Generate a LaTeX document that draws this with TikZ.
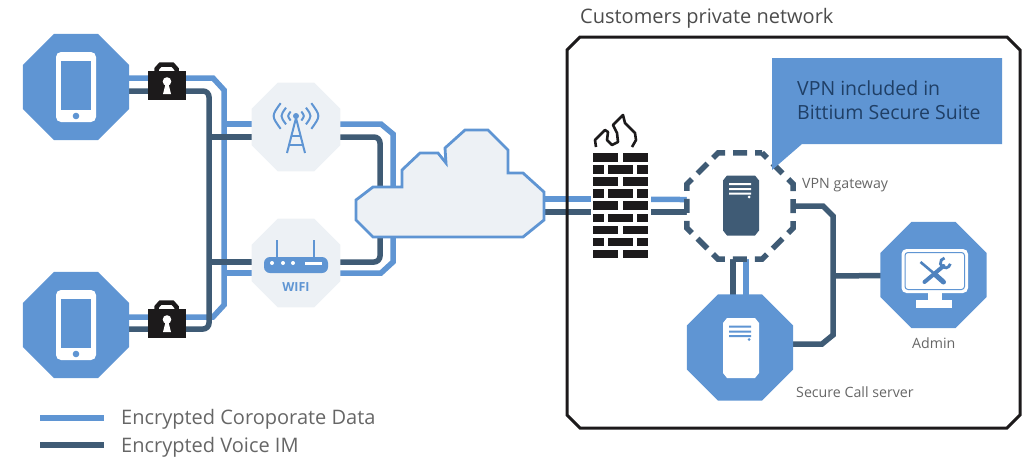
\documentclass[tikz,border=0pt]{standalone}
\usepackage{fontspec}
\setmainfont{Open Sans}
\usetikzlibrary{shapes.geometric,backgrounds}
\definecolor{bblue}{HTML}{5F95D3}
\definecolor{bdark}{HTML}{3F5B75}
\definecolor{blight}{HTML}{EDF1F5}
\definecolor{bblack}{HTML}{1C1A1B}
\definecolor{calltext}{HTML}{1F3F66}
\definecolor{toolblue}{HTML}{4E82BE}
\tikzset{
  octa/.style={regular polygon,regular polygon sides=8,inner sep=0pt,outer sep=0pt,minimum size=115pt},
  octablue/.style={octa,fill=bblue},
  octalight/.style={octa,fill=blight,minimum size=96pt},
  linkblue/.style={draw=bblue,line width=5.5pt},
  linkdark/.style={draw=bdark,line width=5.5pt},
  cap14/.style={font=\fontsize{20}{23}\selectfont,text=black!70,anchor=base west,inner sep=0pt},
  small/.style={font=\fontsize{14.2}{16}\selectfont,text=black!60,anchor=base west,inner sep=0pt},
  calltxt/.style={font=\fontsize{19.5}{24}\selectfont,text=calltext,anchor=base west,inner sep=0pt},
  brick/.style={fill=bblack,draw=none},
  lockbody/.style={fill=bblack,minimum width=38pt,minimum height=29pt,inner sep=0pt,outer sep=0pt},
  lockpic/.pic={
    \draw[bblack,line width=4.5pt] (-10.5,-9) -- (-10.5,-16) -- (-6.5,-20.5) -- (5.5,-20.5) -- (9.5,-16) -- (9.5,-9);
    \fill[white] (0,-3.5) circle (4.3pt);
    \fill[white] (-1.5,-1) -- (1.5,-1) -- (4,9) -- (-4,9) -- cycle;
  },
  phonepic/.pic={
    \fill[white,rounded corners=5pt] (-20,-35) rectangle (20,35);
    \fill[bblue] (-15,-26) rectangle (15,23);
    \fill[bblue] (0,29) circle (3.3pt);
  },
  serverpic/.pic={
    \fill[#1] (-18,-25) -- (-14,-30) -- (14,-30) -- (18,-25) -- (18,25) -- (14,30) -- (-14,30) -- (-18,25) -- cycle;
  },
}
\begin{document}
\begin{tikzpicture}[x=1pt,y=-1pt]
\useasboundingbox (0,0) rectangle (1023,456);

% ---- nodes
\node[octablue] (phoneA) at (76,87) {};
\node[octablue] (phoneB) at (76,325) {};
\node[lockbody] (lockA) at (167,85) {};
\node[lockbody] (lockB) at (167,323) {};
\node[octalight] (tower) at (296,127) {};
\node[octalight] (wifi) at (296,263) {};
\node[minimum width=188pt,minimum height=107pt,inner sep=0pt,outer sep=0pt] (cloud) at (450,183.5) {};
\node[fill=white,minimum width=60pt,minimum height=150pt,inner sep=0pt,outer sep=0pt] (wall) at (621,187) {};
\node[octa,draw=bdark,fill=white,line width=5.5pt,dash pattern=on 14pt off 8pt,dash phase=7pt] (vpn) at (740,206) {};
\node[octablue] (call) at (740,347.5) {};
\node[octablue] (admin) at (933.5,275) {};

% ---- phones, locks
\pic at (phoneA.center) {phonepic};
\pic at (phoneB.center) {phonepic};
\pic at (lockA.center) {lockpic};
\pic at (lockB.center) {lockpic};

% ---- tower icon
\begin{scope}[shift={(tower.center)}]
  \begin{scope}[bblue,line width=2pt]
    \foreach \r in {7,13,20}{
      \draw ({.766*\r},{-11-.643*\r}) .. controls ({1.234*\r},-11) .. ({.766*\r},{-11+.643*\r});
      \draw ({-.766*\r},{-11-.643*\r}) .. controls ({-1.234*\r},-11) .. ({-.766*\r},{-11+.643*\r});
    }
    \fill (0,-11) circle (3pt);
    \draw[line join=round] (-9,26) -- (0,-9) -- (9,26);
    \draw (-4.5,9) -- (4.5,9);
    \draw (-7,18) -- (7,18);
  \end{scope}
\end{scope}

% ---- wifi icon
\begin{scope}[shift={(wifi.center)}]
  \draw[bblue,line width=2pt] (-19,-23) -- (-19,2);
  \draw[bblue,line width=2pt] (18,-23) -- (18,2);
  \fill[bblue,rounded corners=6pt] (-32,-6) rectangle (32,10);
  \fill[white] (-24,0) circle (2pt) (-13,0) circle (2pt) (-3,0) circle (2pt);
  \fill[white] (9,-1.5) rectangle (26,1.5);
  \node[font=\fontsize{12.5}{14}\selectfont\bfseries,text=bblue,inner sep=0pt] (wifitext) at (0,24) {WIFI};
\end{scope}

% ---- cloud
\fill[blight,draw=bblue,line width=2.8pt,line join=miter]
  (356,203) -- (356,220) -- (373,237) -- (523,237) -- (544,220) -- (544,192) -- (523,173) -- (508,173)
  -- (508,150) -- (488,130) -- (465,130) -- (445,148) -- (446,163) -- (438,153) -- (420,153)
  -- (402,170) -- (402,187) -- (373,187) -- (356,200) -- cycle;

% ---- firewall
\foreach \i in {0,2,4,6,8}{
  \fill[brick] (593,{153+12.1*\i}) rectangle (618,{161.5+12.1*\i});
  \fill[brick] (623,{153+12.1*\i}) rectangle (648,{161.5+12.1*\i});
}
\foreach \i in {1,3,5,7}{
  \fill[brick] (593,{153+12.1*\i}) rectangle (604,{161.5+12.1*\i});
  \fill[brick] (608,{153+12.1*\i}) rectangle (633,{161.5+12.1*\i});
  \fill[brick] (637,{153+12.1*\i}) rectangle (648,{161.5+12.1*\i});
}
\draw[bblack,line width=2.6pt,line join=round]
  (596,147) -- (595,140) -- (605,130) -- (608,132) -- (607,140) -- (612,145) -- (618,142) -- (617,133)
  -- (613,125) -- (623,115) -- (625,123) -- (635,133) -- (636,140) -- (632,147);

% ---- server icons
\begin{scope}[shift={(741,205.5)}]
  \pic {serverpic=bdark};
  \fill[white] (-12,-22.5) rectangle (10,-20.5) (-12,-17.5) rectangle (10,-15.5) (-12,-13) rectangle (10,-11);
  \fill[white] (8,-8.5) circle (1.5pt);
\end{scope}
\begin{scope}[shift={(741,348)}]
  \pic {serverpic=white};
  \fill[bblue] (-12,-22.5) rectangle (10,-20.5) (-12,-17.5) rectangle (10,-15.5) (-12,-13) rectangle (10,-11);
  \fill[bblue] (8,-8.5) circle (1.5pt);
\end{scope}

% ---- admin icon
\begin{scope}[shift={(admin.center)}]
  \fill[white,rounded corners=5pt] (-32,-26) rectangle (34.5,18);
  \draw[bblue,line width=1pt,rounded corners=3pt] (-28.5,-22.5) rectangle (31,14.5);
  \fill[white] (-5.5,18) rectangle (8.5,26);
  \fill[white] (-17.5,25) rectangle (18.5,33);
  \draw[toolblue,line width=2.6pt] (-13,-13) -- (0,-2);
  \draw[toolblue,line width=5pt,line cap=round] (1,-1) -- (10,7);
  \draw[toolblue,line width=4pt,line cap=round] (10,-9) -- (-9,7);
  \draw[toolblue,line width=2.8pt] (11,-17) arc[start angle=100,end angle=350,radius=5pt];
\end{scope}

% ---- callout
\fill[bblue] (772,58) -- (1002,58) -- (1002,144) -- (802,144) -- (772,170) -- cycle;
\node[calltxt] (vpntxtA) at (797,95) {VPN included in};
\node[calltxt] (vpntxtB) at (797,119) {Bittium Secure Suite};

% ---- private network frame
\draw[bblack,line width=3pt] (580,37) -- (1007,37) -- (1020,50) -- (1020,415) -- (1007,428) -- (580,428) -- (567,415) -- (567,50) -- cycle;

% ---- labels
\node[cap14] (netlabel) at (580,23) {Customers private network};
\node[small] (vpnlabel) at (802,188) {VPN gateway};
\node[small] (adminlabel) at (912,348) {Admin};
\node[small] (calllabel) at (796,397) {Secure Call server};

% ---- legend
\coordinate (legA1) at (40,418);
\coordinate (legA2) at (104,418);
\coordinate (legB1) at (40,445);
\coordinate (legB2) at (104,445);
\draw[linkblue,line width=6pt] (legA1) -- (legA2);
\draw[linkdark,line width=6pt] (legB1) -- (legB2);
\node[cap14,text=black!60] (legtextA) at (121,424) {Encrypted Coroporate Data};
\node[cap14,text=black!60] (legtextB) at (121,452) {Encrypted Voice IM};

% ---- connectors
\begin{scope}[on background layer]
  \coordinate (busA) at (224,0);
  \coordinate (busB) at (209,0);
  \draw[linkblue] ([shift={(0,-9)}]phoneA.center) -- (213,78) -- (224,90) -- (224,305) -- (213,317) -- ([shift={(0,-8)}]phoneB.center);
  \draw[linkdark,rounded corners=6pt] ([shift={(0,4)}]phoneA.center) -- (209,91) -- (209,329) -- ([shift={(0,4)}]phoneB.center);
  \draw[linkblue] (busA |- tower.center) ++(0,-3) -- ([shift={(0,-3)}]tower.center);
  \draw[linkdark] (busB |- tower.center) ++(0,10) -- ([shift={(0,10)}]tower.center);
  \draw[linkdark] (busB |- wifi.center) ++(0,-1) -- ([shift={(0,-1)}]wifi.center);
  \draw[linkblue] (busA |- wifi.center) ++(0,10) -- ([shift={(0,10)}]wifi.center);
  \draw[linkblue] ([shift={(0,-3)}]tower.center) -- (381,124) -- (393,134) -- ([shift={(-57,7)}]cloud.center);
  \draw[linkdark,rounded corners=6pt] ([shift={(0,10)}]tower.center) -- (380,137) -- ([shift={(-70,7)}]cloud.center);
  \draw[linkblue] ([shift={(0,10)}]wifi.center) -- (381,273) -- (393,262) -- ([shift={(-57,40)}]cloud.center);
  \draw[linkdark,rounded corners=6pt] ([shift={(0,-1)}]wifi.center) -- (380,262) -- ([shift={(-70,40)}]cloud.center);
  \draw[linkblue] ([shift={(0,15.5)}]cloud.center) -- ([shift={(0,12)}]wall.center);
  \draw[linkdark] ([shift={(0,28.5)}]cloud.center) -- ([shift={(0,25)}]wall.center);
  \draw[linkblue] ([shift={(0,12)}]wall.center) -- ([shift={(0,-6)}]vpn.center);
  \draw[linkdark] ([shift={(0,25)}]wall.center) -- ([shift={(0,6)}]vpn.center);
  \draw[linkdark] ([shift={(-7,0)}]vpn.center) -- ([shift={(-7,0)}]call.center);
  \draw[linkblue] ([shift={(6,0)}]vpn.center) -- ([shift={(6,0)}]call.center);
  \draw[linkdark] (vpn.center) -- (823,206) -- (833,216) -- (833,335) -- (822,344) -- ([shift={(0,-3.5)}]call.center);
  \draw[linkdark] (833,276) -- (admin.center);
\end{scope}
\end{tikzpicture}
\end{document}
